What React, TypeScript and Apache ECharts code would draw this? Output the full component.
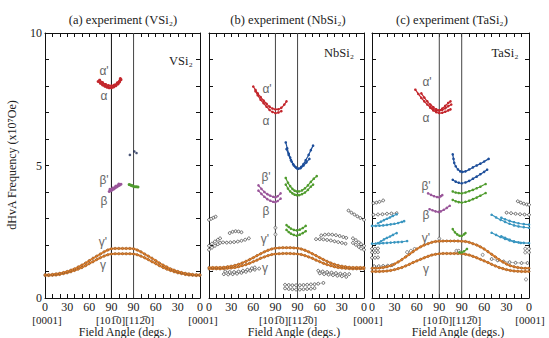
import React, { useEffect, useRef } from "react";
import * as echarts from "echarts";

// ---------------- data ----------------
const panelTitles = ["(a) experiment (VSi₂)", "(b) experiment (NbSi₂)", "(c) experiment (TaSi₂)"];
const compoundNames = ["VSi₂", "NbSi₂", "TaSi₂"];
const dividerAngles = [90, 120];
const freqRange = [0, 10];
const yLabelValues = [0, 5, 10];

const gammaAngles = [0,5,10,15,20,25,30,35,40,45,50,55,60,65,70,75,80,85,90,95,100,105,110,115,120,125,130,135,140,145,150,155,160,165,170,175,180,185,190,195,200,205,210];

const aGammaLow = [0.85,0.85,0.86,0.87,0.89,0.92,0.95,0.99,1.04,1.09,1.15,1.22,1.30,1.37,1.45,1.52,1.58,1.63,1.66,1.67,1.67,1.67,1.67,1.67,1.66,1.63,1.58,1.52,1.45,1.37,1.30,1.22,1.15,1.09,1.04,0.99,0.95,0.92,0.89,0.87,0.86,0.85,0.85];
const aGammaHigh = [0.88,0.88,0.89,0.91,0.93,0.96,1.00,1.05,1.10,1.17,1.24,1.32,1.41,1.50,1.58,1.66,1.74,1.81,1.86,1.87,1.87,1.87,1.87,1.87,1.86,1.81,1.74,1.66,1.58,1.50,1.41,1.32,1.24,1.17,1.10,1.05,1.00,0.96,0.93,0.91,0.89,0.88,0.88];
const bGammaLow = [1.10,1.10,1.10,1.10,1.11,1.12,1.13,1.15,1.18,1.22,1.26,1.31,1.37,1.43,1.50,1.55,1.60,1.64,1.66,1.67,1.68,1.68,1.68,1.67,1.66,1.64,1.60,1.55,1.50,1.43,1.37,1.31,1.26,1.22,1.18,1.15,1.13,1.12,1.11,1.10,1.10,1.10,1.10];
const bGammaHigh = [1.15,1.15,1.15,1.15,1.16,1.18,1.20,1.23,1.27,1.32,1.38,1.45,1.52,1.60,1.67,1.74,1.80,1.85,1.88,1.89,1.90,1.90,1.90,1.89,1.88,1.85,1.80,1.74,1.67,1.60,1.52,1.45,1.38,1.32,1.27,1.23,1.20,1.18,1.16,1.15,1.15,1.15,1.15];
const cGammaLow = [1.00,1.00,1.00,1.01,1.02,1.04,1.07,1.11,1.15,1.21,1.27,1.34,1.40,1.46,1.52,1.57,1.62,1.65,1.67,1.68,1.68,1.68,1.68,1.68,1.67,1.65,1.62,1.57,1.52,1.46,1.40,1.34,1.27,1.21,1.15,1.11,1.07,1.04,1.02,1.01,1.00,1.00,1.00];
const cGammaHigh = [1.12,1.12,1.13,1.15,1.18,1.22,1.28,1.36,1.45,1.55,1.65,1.75,1.85,1.93,2.00,2.05,2.10,2.13,2.14,2.15,2.15,2.15,2.15,2.15,2.14,2.13,2.10,2.05,2.00,1.93,1.85,1.75,1.65,1.55,1.45,1.36,1.28,1.22,1.18,1.15,1.13,1.12,1.12];

// panel (a) VSi2
const aAlpha1 = [[72,8.17],[75,8.1],[78,8.04],[81,7.99],[84,7.95],[87,7.93],[90,7.93],[93,7.96],[96,8.01],[99,8.08],[101,8.15],[103,8.24]];
const aAlpha2 = [[74,8.22],[78,8.13],[82,8.06],[86,8.02],[90,8.01],[94,8.04],[98,8.12],[102,8.28]];
const aBlueDots = [[115,5.4],[121,5.53],[124,5.47]];
const aBeta1 = [[87,4.02],[89,4.05],[91,4.08],[93,4.11],[95,4.15],[97,4.19],[99,4.23],[101,4.26],[103,4.29]];
const aBeta2 = [[88,4.1],[92,4.15],[96,4.22],[100,4.3]];
const aGreen = [[114,4.28],[116,4.26],[118,4.24],[120,4.21],[122,4.2],[124,4.2],[126,4.19]];

// panel (b) NbSi2
const bAlpha1 = [[60,7.98],[63,7.85],[66,7.72],[70,7.58],[74,7.45],[78,7.33],[82,7.22],[86,7.15],[90,7.12],[94,7.12],[98,7.18],[102,7.3],[105,7.42]];
const bAlpha2 = [[63,7.8],[66,7.65],[70,7.48],[74,7.35],[78,7.22],[82,7.1],[86,7.02],[90,6.98],[94,7.0],[98,7.05]];
const bBlue1 = [[104,5.87],[106,5.65],[108,5.45],[110,5.3],[112,5.15],[115,5.0],[118,4.92],[121,4.88],[125,4.95],[128,5.05],[131,5.2],[135,5.4],[138,5.58],[141,5.75]];
const bBlue2 = [[105,5.62],[108,5.4],[111,5.2],[114,5.05],[117,4.95],[120,4.87],[124,4.9],[128,5.0],[132,5.12],[136,5.25]];
const bGreen1 = [[104,4.53],[107,4.35],[110,4.22],[113,4.12],[116,4.05],[119,4.02],[122,4.02],[126,4.06],[130,4.14],[134,4.25],[138,4.38],[142,4.5],[146,4.6]];
const bGreen2 = [[104,4.28],[107,4.13],[110,4.02],[113,3.95],[116,3.9],[119,3.88],[122,3.88],[126,3.92],[130,3.98],[134,4.08],[138,4.2],[141,4.28]];
const bGreen3 = [[105,2.75],[108,2.68],[111,2.62],[115,2.57],[119,2.55],[123,2.58],[127,2.64],[131,2.72]];
const bGreen4 = [[105,2.57],[108,2.49],[111,2.43],[115,2.38],[119,2.35],[123,2.39],[127,2.45],[131,2.52]];
const bBeta1 = [[67,4.25],[71,4.12],[75,4.0],[79,3.92],[83,3.86],[87,3.82],[90,3.8],[93,3.84],[97,3.95]];
const bBeta2 = [[67,4.05],[71,3.93],[75,3.82],[79,3.73],[83,3.67],[87,3.63],[90,3.62],[93,3.66],[97,3.75]];
const bOpen1 = [[0,2.95],[3,2.99],[6,3.03],[9,3.07]];
const bOpen2 = [[0,1.97],[4,2.05],[8,2.13],[12,2.2],[15,2.25]];
const bOpen3 = [[0,1.82],[4,1.9],[8,1.97],[12,2.03],[15,2.08]];
const bOpen4 = [[28,2.45],[32,2.5],[36,2.52],[40,2.51],[44,2.48]];
const bOpen5 = [[19,2.1],[24,2.09],[29,2.1],[34,2.11],[39,2.13],[44,2.16],[49,2.2],[54,2.25]];
const bOpen6 = [[20,0.9],[26,0.89],[32,0.9],[38,0.92],[44,0.95],[50,0.99],[56,1.03],[62,1.07],[68,1.11]];
const bOpen7 = [[22,1.0],[28,0.98],[34,0.98],[40,1.0],[46,1.03],[52,1.07],[58,1.12],[62,1.15]];
const bOpen8 = [[103,0.5],[108,0.49],[113,0.48],[118,0.48],[123,0.48],[128,0.49],[133,0.5],[138,0.51],[143,0.52],[148,0.54],[155,0.57]];
const bOpen9 = [[103,0.36],[108,0.34],[113,0.33],[118,0.32],[123,0.32],[128,0.33],[133,0.34],[138,0.35],[143,0.37]];
const bOpen10 = [[148,1.03],[154,1.0],[160,0.98],[166,0.96],[172,0.94],[178,0.92],[184,0.91],[190,0.9]];
const bOpen11 = [[150,0.93],[156,0.9],[162,0.88],[168,0.86],[174,0.84],[180,0.82],[186,0.8]];
const bOpen12 = [[152,2.36],[157,2.39],[162,2.4],[167,2.39],[172,2.37],[177,2.34],[182,2.3],[186,2.27]];
const bOpen13 = [[145,2.22],[150,2.22],[155,2.21],[160,2.19],[165,2.17],[170,2.14],[175,2.11],[180,2.08],[185,2.05]];
const bOpen14 = [[195,2.25],[199,2.18],[203,2.1],[206,2.03],[210,1.97]];
const bOpen15 = [[195,2.08],[199,2.01],[203,1.93],[206,1.87],[210,1.82]];
const bOpen16 = [[189,3.3],[193,3.22],[197,3.15],[201,3.08],[205,3.02],[210,2.95]];
const bOpenDots = [[90,2.65],[90,2.4]];

// panel (c) TaSi2
const cAlpha1 = [[58,7.86],[62,7.7],[66,7.55],[70,7.42],[74,7.3],[78,7.2],[82,7.12],[86,7.07],[90,7.08],[94,7.15],[98,7.25],[102,7.36],[105,7.42]];
const cAlpha2 = [[66,7.72],[70,7.56],[74,7.42],[78,7.3],[82,7.2],[86,7.12],[90,7.08],[94,7.1],[98,7.16],[102,7.24],[106,7.3]];
const cAlpha3 = [[78,7.18],[82,7.08],[86,7.01],[90,6.98],[94,6.99],[98,7.03],[102,7.08],[105,7.12]];
const cBlue1 = [[108,5.42],[109,5.25],[110,5.1],[112,4.97],[115,4.85],[118,4.78],[121,4.76],[125,4.78],[130,4.85],[135,4.93],[140,5.0],[145,5.07],[150,5.15],[156,5.25]];
const cBlue2 = [[108,4.46],[112,4.39],[116,4.35],[120,4.33],[125,4.36],[130,4.42],[135,4.5],[140,4.58],[145,4.67],[150,4.76],[154,4.84]];
const cGreen1 = [[108,4.02],[112,3.98],[116,3.96],[120,3.95],[125,3.98],[130,4.03],[135,4.08],[140,4.14],[145,4.2],[152,4.3]];
const cGreen2 = [[108,3.7],[112,3.65],[116,3.62],[120,3.6],[125,3.63],[130,3.67],[135,3.73],[140,3.79],[145,3.86],[152,3.96]];
const cGreen3 = [[108,2.6],[111,2.48],[114,2.4],[117,2.35],[120,2.34],[123,2.4],[125,2.45]];
const cGreen4 = [[117,1.72],[120,1.72],[123,1.76],[127,1.85]];
const cBeta1 = [[75,3.95],[79,3.89],[83,3.84],[87,3.81],[90,3.8],[92,3.84],[94,3.88]];
const cBeta2 = [[77,3.35],[81,3.31],[85,3.27],[89,3.25],[92,3.27],[96,3.33],[100,3.4],[104,3.48]];
const cTeal1 = [[0,2.72],[5,2.72],[10,2.73],[15,2.74],[20,2.76],[25,2.78],[30,2.8],[35,2.83],[40,2.87],[43,2.9]];
const cTeal2 = [[8,2.82],[12,2.88],[16,2.94],[20,2.99],[24,3.04],[28,3.1],[33,3.16]];
const cTeal3 = [[0,2.05],[5,2.05],[10,2.06],[15,2.07],[20,2.08],[25,2.09],[30,2.1],[35,2.11],[40,2.12],[47,2.15]];
const cTeal4 = [[8,2.07],[12,2.14],[16,2.21],[20,2.27],[24,2.32],[28,2.38],[33,2.45]];
const cTeal5 = [[160,3.14],[166,3.04],[172,2.95],[178,2.87],[184,2.8],[190,2.74],[196,2.7],[203,2.67],[210,2.65]];
const cTeal6 = [[173,3.03],[178,2.97],[184,2.91],[190,2.86],[196,2.82],[203,2.79],[210,2.77]];
const cTeal7 = [[160,2.46],[166,2.38],[172,2.3],[178,2.23],[184,2.17],[190,2.12],[199,2.08]];
const cTeal8 = [[173,2.33],[178,2.27],[184,2.2],[190,2.14],[196,2.1],[203,2.08],[210,2.07]];
const cOpen1 = [[2,3.58],[6,3.6],[10,3.63],[15,3.68]];
const cOpen2 = [[2,3.14],[8,3.15],[14,3.16],[20,3.18],[26,3.19],[33,3.2]];
const cOpen3 = [[195,3.65],[199,3.6],[203,3.56],[207,3.53],[210,3.52]];
const cOpen4 = [[180,3.22],[186,3.2],[192,3.18],[198,3.16],[204,3.15],[210,3.14]];
const cOpen5 = [[0,1.86],[4,1.86],[8,1.87]];
const cOpen6 = [[0,1.72],[4,1.72],[8,1.73]];
const cOpen7 = [[0,1.52],[4,1.52],[8,1.53]];
const cOpen8 = [[3,1.2],[9,1.2],[15,1.21],[21,1.22],[27,1.24]];
const cOpen9 = [[160,1.47],[168,1.42],[176,1.38],[184,1.35],[192,1.33],[200,1.32],[208,1.32]];
const cOpenDots = [[47,1.73],[52,1.78],[57,1.85],[148,1.63],[206,0.7],[90,2.24],[113,1.78],[116,1.78],[205,1.86],[210,1.86],[205,1.72],[210,1.72]];

// ---------------- styling / layout ----------------
const SERIF = '"Liberation Serif", "Times New Roman", serif';
const SANS = '"Liberation Sans", Arial, sans-serif';
const panelLeft = [45, 209, 372];
const panelWidth = [155, 155, 157];
const gridTop = 33;
const gridHeight = 265;

const RED = "#c3262c";
const BLUE = "#1d4e9a";
const GREEN = "#4f9b2d";
const PURPLE = "#9a569a";
const TEAL = "#3a96c0";
const ORANGE = "#e8832b";

function curve(panel: number, data: number[][], color: string, width = 1.2, size = 2.6): any {
  return {
    type: "line",
    xAxisIndex: panel,
    yAxisIndex: panel,
    data,
    smooth: 0.3,
    symbol: "circle",
    symbolSize: size,
    showSymbol: true,
    lineStyle: { color, width },
    itemStyle: { color },
    z: 3,
    silent: true,
  };
}

const openItem = { color: "#ffffff", borderColor: "#333333", borderWidth: 0.7 };

function openCurve(panel: number, data: number[][]): any {
  return {
    type: "line",
    xAxisIndex: panel,
    yAxisIndex: panel,
    data,
    smooth: 0.3,
    symbol: "circle",
    symbolSize: 2.8,
    lineStyle: { color: "#888888", width: 0.6 },
    itemStyle: openItem,
    z: 2,
    silent: true,
  };
}

function openDots(panel: number, data: number[][]): any {
  return {
    type: "scatter",
    xAxisIndex: panel,
    yAxisIndex: panel,
    data,
    symbol: "circle",
    symbolSize: 3,
    itemStyle: openItem,
    z: 2,
    silent: true,
  };
}

function gammaCurve(panel: number, values: number[]): any {
  return {
    type: "line",
    xAxisIndex: panel,
    yAxisIndex: panel,
    data: gammaAngles.map((a, i) => [a, values[i]]),
    smooth: 0.3,
    symbol: "circle",
    symbolSize: 2.4,
    lineStyle: { color: ORANGE, width: 2 },
    itemStyle: { color: ORANGE, borderColor: "#6a4a30", borderWidth: 0.5 },
    z: 3,
    silent: true,
  };
}

function dividers(panel: number): any[] {
  return dividerAngles.map((a) => ({
    type: "line",
    xAxisIndex: panel,
    yAxisIndex: panel,
    data: freqRange.map((f) => [a, f]),
    symbol: "none",
    lineStyle: { color: panel === 0 && a === 90 ? "#111" : "#444", width: 1 },
    z: 1,
    silent: true,
  }));
}

const angleLabel = (v: number) => String(v <= 90 ? v : 210 - v);

export default function App() {
  const ref = useRef<HTMLDivElement>(null);

  useEffect(() => {
    if (!ref.current) return;
    const chart = echarts.init(ref.current, undefined, { renderer: "svg" });
    const panels = [0, 1, 2];

    const grid = panels.map((p) => ({
      left: panelLeft[p],
      top: gridTop,
      width: panelWidth[p],
      height: gridHeight,
    }));

    const xBase = (p: number) => ({
      gridIndex: p,
      type: "value",
      min: 0,
      max: 210,
      interval: 30,
      axisLine: { show: true, onZero: false, lineStyle: { color: "#111", width: 1 } },
      axisTick: { show: true, inside: true, length: 4, lineStyle: { color: "#111" } },
      minorTick: { show: true, splitNumber: 3, length: 4, lineStyle: { color: "#111" } },
      splitLine: { show: false },
      minorSplitLine: { show: false },
    });
    const xAxis: any[] = [
      ...panels.map((p) => ({
        ...xBase(p),
        position: "bottom",
        axisLabel: {
          show: true,
          formatter: angleLabel,
          fontFamily: SERIF,
          fontSize: 12,
          color: "#222",
          margin: 3,
          showMinLabel: true,
          showMaxLabel: true,
        },
      })),
      ...panels.map((p) => ({ ...xBase(p), position: "top", axisLabel: { show: false } })),
    ];

    const yBase = (p: number) => ({
      gridIndex: p,
      type: "value",
      min: freqRange[0],
      max: freqRange[1],
      interval: 1,
      axisLine: { show: true, onZero: false, lineStyle: { color: "#111", width: 1 } },
      axisTick: { show: true, inside: true, length: 4, lineStyle: { color: "#111" } },
      splitLine: { show: false },
    });
    const yAxis: any[] = [
      ...panels.map((p) => ({
        ...yBase(p),
        position: "left",
        axisLabel: {
          show: p === 0,
          formatter: (v: number) => (yLabelValues.includes(v) ? String(v) : ""),
          fontFamily: SERIF,
          fontSize: 12,
          color: "#222",
          margin: 3,
        },
      })),
      ...panels.map((p) => ({ ...yBase(p), position: "right", axisLabel: { show: false } })),
    ];

    const series: any[] = [
      ...dividers(0),
      ...dividers(1),
      ...dividers(2),
      // panel a
      gammaCurve(0, aGammaLow),
      gammaCurve(0, aGammaHigh),
      curve(0, aAlpha1, RED, 1.6, 3),
      curve(0, aAlpha2, RED, 1.6, 3),
      {
        type: "scatter",
        xAxisIndex: 0,
        yAxisIndex: 0,
        data: aBlueDots,
        symbol: "circle",
        symbolSize: 2.6,
        itemStyle: { color: "#1c2b55" },
        silent: true,
      },
      curve(0, aBeta1, PURPLE, 1.4, 3),
      curve(0, aBeta2, PURPLE, 1.4, 3),
      curve(0, aGreen, GREEN, 1.6, 3),
      // panel b
      ...[bOpen1, bOpen2, bOpen3, bOpen4, bOpen5, bOpen6, bOpen7, bOpen8, bOpen9, bOpen10, bOpen11, bOpen12, bOpen13, bOpen14, bOpen15, bOpen16].map((d) => openCurve(1, d)),
      openDots(1, bOpenDots),
      gammaCurve(1, bGammaLow),
      gammaCurve(1, bGammaHigh),
      curve(1, bAlpha1, RED),
      curve(1, bAlpha2, RED),
      curve(1, bBlue1, BLUE),
      curve(1, bBlue2, BLUE),
      curve(1, bGreen1, GREEN),
      curve(1, bGreen2, GREEN),
      curve(1, bGreen3, GREEN),
      curve(1, bGreen4, GREEN),
      curve(1, bBeta1, PURPLE),
      curve(1, bBeta2, PURPLE),
      // panel c
      ...[cOpen1, cOpen2, cOpen3, cOpen4, cOpen5, cOpen6, cOpen7, cOpen8, cOpen9].map((d) => openCurve(2, d)),
      openDots(2, cOpenDots),
      gammaCurve(2, cGammaLow),
      gammaCurve(2, cGammaHigh),
      curve(2, cAlpha1, RED),
      curve(2, cAlpha2, RED),
      curve(2, cAlpha3, RED),
      curve(2, cBlue1, BLUE),
      curve(2, cBlue2, BLUE),
      curve(2, cGreen1, GREEN),
      curve(2, cGreen2, GREEN),
      curve(2, cGreen3, GREEN),
      curve(2, cGreen4, GREEN),
      curve(2, cBeta1, PURPLE),
      curve(2, cBeta2, PURPLE),
      ...[cTeal1, cTeal2, cTeal3, cTeal4, cTeal5, cTeal6, cTeal7, cTeal8].map((d) => curve(2, d, TEAL)),
    ];

    const txt = (x: number, y: number, text: string, size: number, family = SERIF, fill = "#222") => ({
      type: "text",
      x,
      y,
      silent: true,
      style: { text, fontSize: size, fontFamily: family, fill, align: "center", verticalAlign: "middle" },
    });

    const titleX = [123, 288, 452];
    const compX = [181, 339, 505];
    const compY = [61, 53, 53];
    const greekPos = [
      [[104, 71], [104, 96], [104, 180], [104, 201], [103, 242], [103, 265]],
      [[267, 89], [266, 121], [266, 177], [266, 211], [265, 239], [265, 268]],
      [[427, 82], [426, 118], [426, 186], [426, 215], [426, 238], [426, 269]],
    ];
    const greek = ["α'", "α", "β'", "β", "γ'", "γ"];
    const midLabelX = [125, 288, 452];
    const fieldX = [125, 294, 458];

    const graphic: any[] = [
      ...panels.map((p) => txt(titleX[p], 20, panelTitles[p], 12.5)),
      ...panels.map((p) => txt(compX[p], compY[p], compoundNames[p], 12.5)),
      ...panels.flatMap((p) => greekPos[p].map((pos, i) => txt(pos[0], pos[1], greek[i], 12, SANS, "#666"))),
      txt(47, 319.5, "[0001]", 11),
      txt(203, 319.5, "[0001]", 11),
      txt(368, 319.5, "[0001]", 11),
      txt(530, 319.5, "[0001]", 11),
      ...panels.map((p) => txt(midLabelX[p], 319.5, "[101\u03050][112\u03050]", 11)),
      ...panels.map((p) => txt(fieldX[p], 332, "Field Angle (degs.)", 12)),
      {
        type: "text",
        x: 12,
        y: 165,
        rotation: Math.PI / 2,
        silent: true,
        style: {
          text: "dHvA Frequency (x10⁷Oe)",
          fontSize: 12,
          fontFamily: SERIF,
          fill: "#222",
          align: "center",
          verticalAlign: "middle",
        },
      },
    ];

    chart.setOption({
      animation: false,
      backgroundColor: "#fff",
      grid,
      xAxis,
      yAxis,
      series,
      graphic,
    });

    return () => chart.dispose();
  }, []);

  return (
    <div
      ref={ref}
      style={{ position: "fixed", left: 0, top: 0, width: 549, height: 338 }}
    />
  );
}
